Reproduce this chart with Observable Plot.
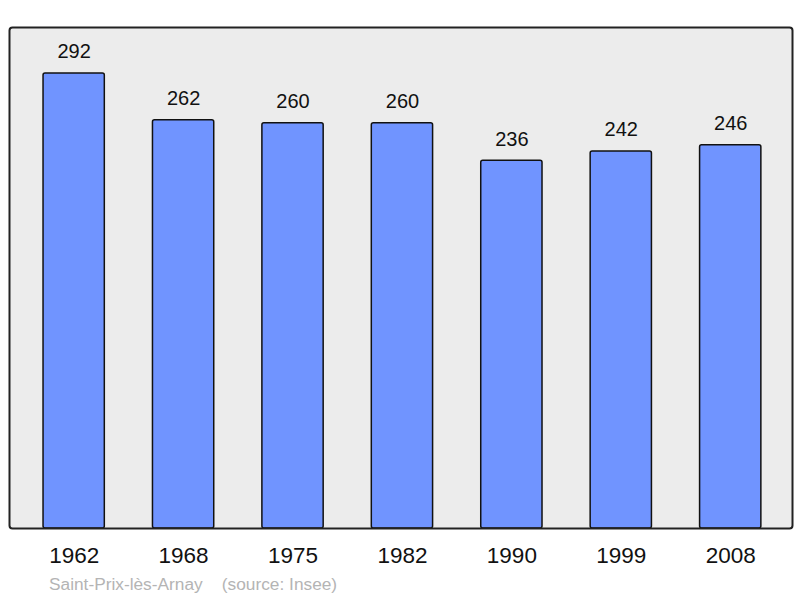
<!DOCTYPE html>
<html><head><meta charset="utf-8">
<script src="https://cdn.jsdelivr.net/npm/d3@7"></script>
<script src="https://cdn.jsdelivr.net/npm/@observablehq/plot@0.6"></script>
<style>
body{margin:0;background:#fff;font-family:"Liberation Sans",Arial,sans-serif;}
#cap{font-size:17.3px;color:#b4b4b4;line-height:28px;height:28px;padding-left:49px;white-space:pre;}
</style></head>
<body><div id="chart"></div><div id="cap"></div>
<script>
const years = ["1962","1968","1975","1982","1990","1999","2008"];
const population = [292,262,260,260,236,242,246];
const caption = "Saint-Prix-lès-Arnay    (source: Insee)";
const data = years.map((y,i)=>({year:y, pop:population[i]}));
const chart = Plot.plot({
  width:800, height:570,
  marginTop:27, marginBottom:42, marginLeft:9, marginRight:8,
  style:{fontFamily:'"Liberation Sans",Arial,sans-serif', background:"#fff"},
  x:{domain:years, range:[12.4,791.5], round:false, paddingInner:0.44, paddingOuter:0.28, label:null},
  y:{domain:[0,321.5], axis:null},
  marks:[
    Plot.frame({fill:"#ececec", stroke:null, rx:3}),
    Plot.barY(data,{x:"year", y:"pop", fill:"#7094ff", stroke:"#111", strokeWidth:1.5, rx:2}),
    Plot.text(data,{x:"year", y:"pop", text:d=>String(d.pop), dy:-21.5, fontSize:20, fill:"#111"}),
    Plot.frame({stroke:"#222", strokeWidth:2, rx:3}),
    Plot.axisX({tickSize:0, tickPadding:19, fontSize:22.5, fill:"#111", label:null})
  ]
});
document.getElementById("chart").appendChild(chart);
document.getElementById("cap").textContent = caption;
</script></body></html>
